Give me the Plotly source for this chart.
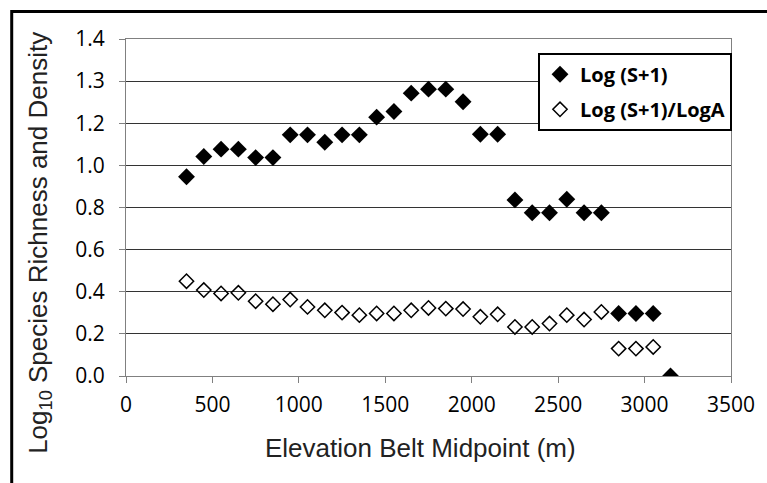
import plotly.graph_objects as go

elevation = [350, 450, 550, 650, 750, 850, 950, 1050, 1150, 1250, 1350, 1450, 1550, 1650,
             1750, 1850, 1950, 2050, 2150, 2250, 2350, 2450, 2550, 2650, 2750, 2850, 2950,
             3050, 3150]
log_s1 = [0.946, 1.042, 1.077, 1.077, 1.037, 1.037, 1.145, 1.145, 1.110, 1.145, 1.145,
          1.229, 1.256, 1.343, 1.362, 1.362, 1.302, 1.148, 1.148, 0.836, 0.775, 0.775,
          0.839, 0.775, 0.775, 0.297, 0.297, 0.297, 0.0]
elev_open = elevation[:28]
log_s1_loga = [0.450, 0.408, 0.392, 0.395, 0.355, 0.341, 0.363, 0.328, 0.312, 0.301, 0.289,
               0.297, 0.297, 0.312, 0.323, 0.320, 0.318, 0.281, 0.293, 0.233, 0.233, 0.249,
               0.289, 0.268, 0.304, 0.130, 0.130, 0.138]
y_tickvals = [0.0, 0.2, 0.4, 0.6, 0.8, 1.0, 1.2, 1.4, 1.6]
y_ticktext = ["0.0", "0.2", "0.4", "0.6", "0.8", "1.0", "1.2", "1.3", "1.4"]
x_tickvals = [0, 500, 1000, 1500, 2000, 2500, 3000, 3500]

fig = go.Figure()
fig.add_trace(go.Scatter(
    x=elevation, y=log_s1, mode="markers", name="Log (S+1)", legendgroup="a",
    marker=dict(symbol="diamond", size=13, color="black", line=dict(width=0)),
))
fig.add_trace(go.Scatter(
    x=elev_open, y=log_s1_loga, mode="markers", name="Log (S+1)/LogA", legendgroup="b",
    marker=dict(symbol="diamond-open", size=11, color="black", line=dict(width=1.5, color="black")),
))

tick_font = dict(family="Open Sans", size=21, color="black")
fig.update_layout(
    width=767, height=483,
    margin=dict(l=126, r=27, t=39, b=107),
    paper_bgcolor="white", plot_bgcolor="white",
    showlegend=True,
    legend=dict(
        x=0.681, y=0.959, xanchor="left", yanchor="top",
        bgcolor="white", bordercolor="black", borderwidth=2,
        font=dict(family="Open Sans", size=20, color="black", weight="bold"),
        tracegroupgap=6,
    ),
    xaxis=dict(
        range=[0, 3500], tickvals=x_tickvals, ticks="outside", ticklen=6,
        tickcolor="#808080", showline=True, linecolor="#808080", linewidth=1,
        mirror=True, showgrid=False, zeroline=False, tickfont=tick_font,
        ticklabelstandoff=4,
    ),
    yaxis=dict(
        range=[0, 1.6], tickvals=y_tickvals, ticktext=y_ticktext, ticks="outside",
        ticklen=6, tickcolor="#808080", showline=True, linecolor="#808080", linewidth=1,
        mirror=True, showgrid=True, gridcolor="#333333", gridwidth=1, zeroline=False,
        tickfont=tick_font, ticklabelstandoff=10,
    ),
    annotations=[
        dict(text="Log<sub>10</sub> Species Richness and Density", xref="paper", yref="paper",
             x=-0.1433, y=0.396, xanchor="center", yanchor="middle", textangle=-90,
             showarrow=False, font=dict(family="Liberation Sans", size=26, color="#222222")),
        dict(text="Elevation Belt Midpoint (m)", xref="paper", yref="paper",
             x=0.487, y=-0.2136, xanchor="center", yanchor="middle",
             showarrow=False, font=dict(family="Liberation Sans", size=26, color="#222222")),
    ],
    shapes=[
        dict(type="rect", xref="paper", yref="paper", x0=-0.1889, x1=1.098,
             y0=-0.368, y1=1.0816, line=dict(color="black", width=3), layer="above"),
    ],
)

fig.write_html("out.html", config={"displayModeBar": False},
               post_script="document.body.style.margin='0px';")
